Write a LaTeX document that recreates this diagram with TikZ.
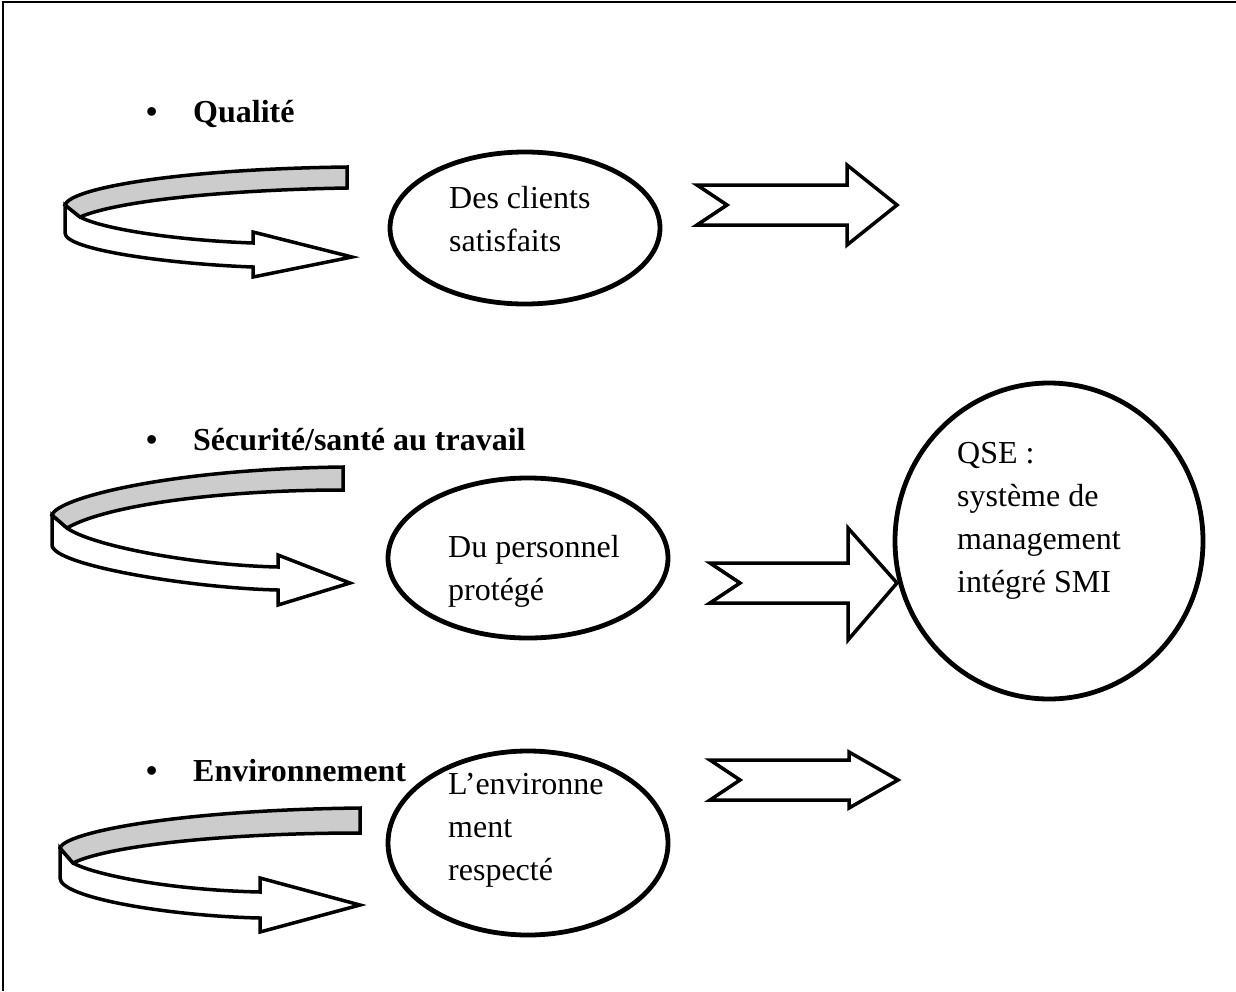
\documentclass[tikz,border=0pt]{standalone}
\usepackage{fontspec}
\setmainfont{Liberation Serif}
\usetikzlibrary{shapes.geometric}
\begin{document}
\begin{tikzpicture}[x=1pt,y=-1pt,
  oval/.style={draw, line width=4.8pt, ellipse, inner sep=0pt},
  body/.style={font=\fontsize{32}{43}\selectfont, align=left, anchor=base west, inner sep=0pt},
  headtxt/.style={font=\fontsize{32}{38}\selectfont\bfseries, anchor=base west, inner sep=0pt},
  blk/.style={draw, line width=3.5pt, fill=white, line join=miter},
  curlw/.style={draw, line width=3.5pt, fill=white, line join=miter},
  curlg/.style={draw, line width=3.5pt, fill=black!20, line join=miter},
  frame/.style={line width=2.5pt}]
\useasboundingbox (0,0) rectangle (1236,991);
% frame
\draw[frame] (3,991) -- (3,2) -- (1236,2);
% headings
\node[headtxt] (h1) at (146,122) {\makebox[47pt][l]{\textbullet}Qualité};
\node[headtxt] (h2) at (146,450) {\makebox[47pt][l]{\textbullet}Sécurité/santé au travail};
\node[headtxt] (h3) at (146,781) {\makebox[47pt][l]{\textbullet}Environnement};
% ellipses
\node[oval, minimum width=270pt, minimum height=152pt] (e1) at (525,228) {};
\node[oval, minimum width=280pt, minimum height=160pt] (e2) at (528,558) {};
\node[oval, minimum width=280pt, minimum height=184pt] (e3) at (528,843) {};
\node[oval, minimum width=308pt, minimum height=316pt] (e4) at (1049,541) {};
% texts (anchor = baseline of last line)
\node[body] (t1) at (449,251) {Des clients\\satisfaits};
\node[body] (t2) at (448,600) {Du personnel\\protégé};
\node[body] (t3) at (448,880) {L’environne\\ment\\respecté};
\node[body] (t4) at (957,592) {QSE :\\système de\\management\\intégré SMI};
% block arrows
\draw[blk] (697,185) -- (847,185) -- (847,165) -- (897,205) -- (847,245) -- (847,225) -- (697,225) -- (727,205) -- cycle;
\draw[blk] (710,563) -- (848,563) -- (848,528) -- (897,583) -- (848,640) -- (848,603) -- (710,603) -- (740,583) -- cycle;
\draw[blk] (710,760) -- (849,760) -- (849,752) -- (898,780) -- (849,808) -- (849,800) -- (710,800) -- (740,780) -- cycle;
% curved arrow 1
\draw[curlw] (65,205) -- (65,233) .. controls (65,250) and (170,264) .. (253,267) -- (253,277) -- (352,257) -- (253,232) -- (253,243) .. controls (170,240) and (100,228) .. (80,217) -- cycle;
\draw[curlg] (347,167) .. controls (180,169) and (70,188) .. (65,205) -- (80,217) .. controls (120,200) and (230,190) .. (347,188) -- cycle;
% curved arrow 2
\draw[curlw] (52,515) -- (52,545) .. controls (52,565) and (190,588) .. (278,590) -- (278,605) -- (350,583) -- (278,555) -- (278,567) .. controls (190,565) and (90,545) .. (67,528) -- cycle;
\draw[curlg] (343,467) .. controls (170,469) and (57,498) .. (52,515) -- (67,528) .. controls (107,505) and (220,490) .. (343,490) -- cycle;
% curved arrow 3
\draw[curlw] (60,848) -- (60,878) .. controls (60,898) and (170,916) .. (260,918) -- (260,932) -- (360,905) -- (260,878) -- (260,892) .. controls (170,890) and (95,875) .. (73,863) -- cycle;
\draw[curlg] (360,808) .. controls (180,810) and (65,832) .. (60,848) -- (73,863) .. controls (110,845) and (230,833) .. (360,833) -- cycle;
\end{tikzpicture}
\end{document}
